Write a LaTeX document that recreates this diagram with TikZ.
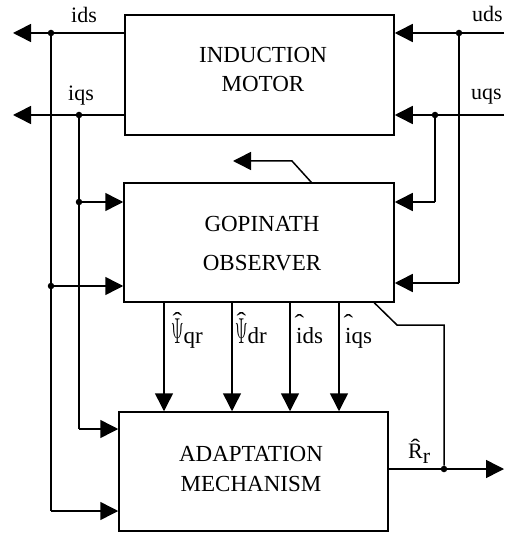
\documentclass[tikz,border=0pt]{standalone}
\usepackage{fontspec}
\setmainfont{Liberation Serif}
\usetikzlibrary{arrows.meta,calc}
\newcommand{\hatup}[2]{\setbox0\hbox{#1}\makebox[\wd0][c]{\raisebox{#2}{\scalebox{1.25}[1]{\char"02C6}}}\kern-\wd0\box0}
\newcommand{\tallpsi}{\hatup{\scalebox{0.7}[1.45]{$\Psi$}}{15pt}}
\begin{document}
\begin{tikzpicture}[x=1pt,y=-1pt,
  blk/.style={draw,line width=1.5pt,inner sep=0pt},
  boxtxt/.style={align=center,inner sep=0pt},
  wire/.style={line width=1.5pt},
  sig/.style={line width=1.5pt,-{Triangle[length=18pt,width=18pt]}},
  junc/.style={circle,fill,inner sep=0pt,minimum size=6.5pt},
  lbl/.style={inner sep=0pt,anchor=base west,font=\fontsize{22}{25}\selectfont},
  lblb/.style={inner sep=0pt,anchor=base west,font=\fontsize{23}{27}\selectfont}]
\useasboundingbox (0,0) rectangle (504,534);
% blocks
\node[blk,minimum width=269pt,minimum height=120pt] (im) at (259.5,75) {};
\node[blk,minimum width=270pt,minimum height=119pt] (obs) at (259,242.5) {};
\node[blk,minimum width=269pt,minimum height=119pt] (ad) at (253.5,471.5) {};
\node[boxtxt,font=\fontsize{23}{29}\selectfont] (imtxt) at (263,70) {INDUCTION\\MOTOR};
\node[boxtxt,font=\fontsize{23}{39}\selectfont] (obstxt) at (262,244) {GOPINATH\\OBSERVER};
\node[boxtxt,font=\fontsize{23}{30}\selectfont] (adtxt) at (251,469) {ADAPTATION\\MECHANISM};
% coordinates
\coordinate (idsL) at (13,33);
\coordinate (iqsL) at (13,115);
\coordinate (idsBot) at (51,511);
\coordinate (iqsBot) at (79,429);
\coordinate (udsR) at (504,33);
\coordinate (uqsR) at (504,115);
\coordinate (udsBot) at (459,283);
\coordinate (uqsBot) at (435,202);
\coordinate (fbA) at (292,161);
\coordinate (fbL) at (233,161);
\coordinate (rrA) at (397,325);
\coordinate (rrB) at (444,325);
\coordinate (rrOut) at (504,469);
% junctions
\node[junc] (jids) at (51,33) {};
\node[junc] (jiqs) at (79,115) {};
\node[junc] (jiqs2) at (79,202) {};
\node[junc] (jids2) at (51,286) {};
\node[junc] (juds) at (459,33) {};
\node[junc] (juqs) at (435,115) {};
\node[junc] (jrr) at (444,469) {};
% induction motor outputs
\draw[sig] (im.west |- jids) -- (idsL);
\draw[sig] (im.west |- jiqs) -- (iqsL);
\draw[wire] (jids) -- (jids2) -- (idsBot);
\draw[wire] (jiqs) -- (jiqs2) -- (iqsBot);
\draw[sig] (jiqs2) -- (obs.west |- jiqs2);
\draw[sig] (jids2) -- (obs.west |- jids2);
\draw[sig] (iqsBot) -- (ad.west |- iqsBot);
\draw[sig] (idsBot) -- (ad.west |- idsBot);
% inputs
\draw[sig] (udsR) -- (im.east |- udsR);
\draw[sig] (uqsR) -- (im.east |- uqsR);
\draw[wire] (juds) -- (udsBot);
\draw[sig] (udsBot) -- (obs.east |- udsBot);
\draw[wire] (juqs) -- (uqsBot);
\draw[sig] (uqsBot) -- (obs.east |- uqsBot);
% observer top feedback
\draw[sig] ($(obs.north west)+(188,0)$) -- (fbA) -- (fbL);
% observer outputs
\foreach \x in {164,232,290,339}{
  \draw[sig] (obs.south -| \x,0) -- (ad.north -| \x,0);
}
% Rr loop
\draw[wire] ($(obs.south west)+(251,0)$) -- (rrA) -- (rrB) -- (jrr);
\draw[sig] (ad.east |- rrOut) -- (rrOut);
% labels
\node[lbl] (lids) at (71,23) {ids};
\node[lbl] (liqs) at (68,101) {iqs};
\node[lbl] (luds) at (472,22) {uds};
\node[lbl] (luqs) at (471,100) {uqs};
\node[lblb] (lpq) at (171,343) {\tallpsi qr};
\node[lblb] (lpd) at (235,343) {\tallpsi dr};
\node[lblb] (lid) at (296,343) {\hatup{i}{13pt}ds};
\node[lblb] (liq) at (345,343) {\hatup{i}{13pt}qs};
\node[lbl] (lrr) at (408,458) {\hatup{R}{4pt}\raisebox{-5pt}{r}};
\end{tikzpicture}
\end{document}
